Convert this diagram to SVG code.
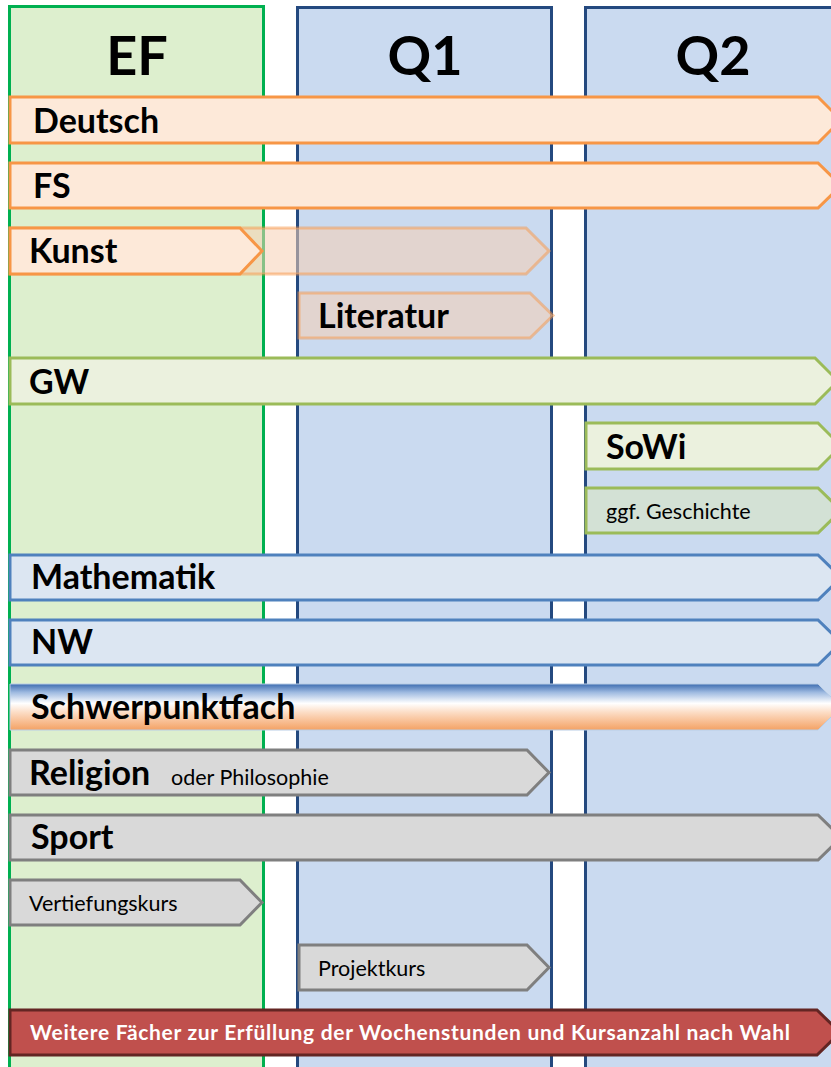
<svg xmlns="http://www.w3.org/2000/svg" width="831" height="1067" viewBox="0 0 831 1067">
<defs>
<linearGradient id="gSP" x1="0" y1="0" x2="0" y2="1">
<stop offset="0" stop-color="#3D6CB0"/>
<stop offset="0.18" stop-color="#9DB9E0"/>
<stop offset="0.42" stop-color="#FFFFFF"/>
<stop offset="0.62" stop-color="#FCDCC4"/>
<stop offset="1" stop-color="#F4A264"/>
</linearGradient>
<style>
.lbl{font-family:Lato,"Liberation Sans",sans-serif;font-weight:bold;font-size:34px;fill:#000}
.hdr{font-family:Lato,"Liberation Sans",sans-serif;font-weight:bold;font-size:54px;fill:#000;text-anchor:middle}
.sm{font-family:Lato,"Liberation Sans",sans-serif;font-size:21.5px;fill:#000}
.wh{font-family:Lato,"Liberation Sans",sans-serif;font-weight:bold;font-size:21px;fill:#FFF}
.or{fill:#FDE9D9;stroke:#F79646;stroke-width:3}
.orf{fill:#F5D0B5;fill-opacity:0.55;stroke:#F79646;stroke-opacity:0.5;stroke-width:3}
.gr{fill:#EBF1DE;stroke:#9BBB59;stroke-width:3}
.gr2{fill:#D3E1D5;stroke:#9BBB59;stroke-width:3}
.bl{fill:#DCE6F2;stroke:#4F81BD;stroke-width:3}
.gy{fill:#D9D9D9;stroke:#7F7F7F;stroke-width:3}
.rd{fill:#C0504D;stroke:#632523;stroke-width:3}
</style>
</defs>
<rect width="831" height="1067" fill="#FFFFFF"/>
<g id="col-EF">
<rect x="9.5" y="6.5" width="254" height="1080" fill="#DDEFCE" stroke="#00B050" stroke-width="3"/>
<text class="hdr" x="137" y="75">EF</text>
</g>
<g id="col-Q1">
<rect x="297.5" y="7.5" width="254" height="1080" fill="#CADAF0" stroke="#24497F" stroke-width="3"/>
<text class="hdr" x="425" y="75">Q1</text>
</g>
<g id="col-Q2">
<rect x="585.5" y="7.5" width="260" height="1080" fill="#CADAF0" stroke="#24497F" stroke-width="3"/>
<text class="hdr" x="713" y="75">Q2</text>
</g>
<g id="connectors"></g>
<g id="deutsch">
<polygon class="or" points="10,97 818,97 841,120 818,143 10,143"/>
<text class="lbl" x="33" y="133">Deutsch</text>
</g>
<g id="fs">
<polygon class="or" points="10,163 818,163 841,185.5 818,208 10,208"/>
<text class="lbl" x="33" y="198">FS</text>
</g>
<g id="kunst-q1">
<polygon class="orf" points="10,228 526,228 549,251 526,274 10,274"/>
</g>
<g id="kunst">
<polygon class="or" points="10,228 240,228 262,251 240,274 10,274"/>
<text class="lbl" x="29" y="263">Kunst</text>
</g>
<g id="literatur">
<polygon class="orf" points="299,293 530,293 553,315.5 530,338 299,338"/>
<text class="lbl" x="318" y="328">Literatur</text>
</g>
<g id="gw">
<polygon class="gr" points="10,358 815,358 838,381 815,404 10,404"/>
<text class="lbl" x="29" y="394">GW</text>
</g>
<g id="sowi">
<polygon class="gr" points="586,423 818,423 841,446 818,469 586,469"/>
<text class="lbl" x="606" y="459">SoWi</text>
</g>
<g id="geschichte">
<polygon class="gr2" points="586,488 818,488 841,510.5 818,533 586,533"/>
<text class="sm" x="606" y="519">ggf. Geschichte</text>
</g>
<g id="mathematik">
<polygon class="bl" points="10,555 818,555 841,577.5 818,600 10,600"/>
<text class="lbl" x="31" y="589">Mathematik</text>
</g>
<g id="nw">
<polygon class="bl" points="10,620 818,620 841,642.5 818,665 10,665"/>
<text class="lbl" x="31" y="654">NW</text>
</g>
<g id="schwerpunktfach">
<polygon points="10,684 818,684 841,707 818,730 10,730" fill="url(#gSP)" stroke="#B9CDE5" stroke-width="1"/>
<text class="lbl" x="31" y="719">Schwerpunktfach</text>
</g>
<g id="religion">
<polygon class="gy" points="10,750 527,750 549,772.5 527,795 10,795"/>
<text class="lbl" x="29" y="785">Religion</text>
<text class="sm" x="171" y="785">oder Philosophie</text>
</g>
<g id="sport">
<polygon class="gy" points="10,815 818,815 841,837.5 818,860 10,860"/>
<text class="lbl" x="31" y="849">Sport</text>
</g>
<g id="vertiefungskurs">
<polygon class="gy" points="10,880 240,880 262,902.5 240,925 10,925"/>
<text class="sm" x="29" y="911">Vertiefungskurs</text>
</g>
<g id="projektkurs">
<polygon class="gy" points="299,945 527,945 549,967.5 527,990 299,990"/>
<text class="sm" x="318" y="976">Projektkurs</text>
</g>
<g id="weitere">
<polygon class="rd" points="10,1010 817,1010 840,1032.5 817,1055 10,1055"/>
<text class="wh" x="30" y="1040" textLength="760">Weitere Fächer zur Erfüllung der Wochenstunden und Kursanzahl nach Wahl</text>
</g>
</svg>
